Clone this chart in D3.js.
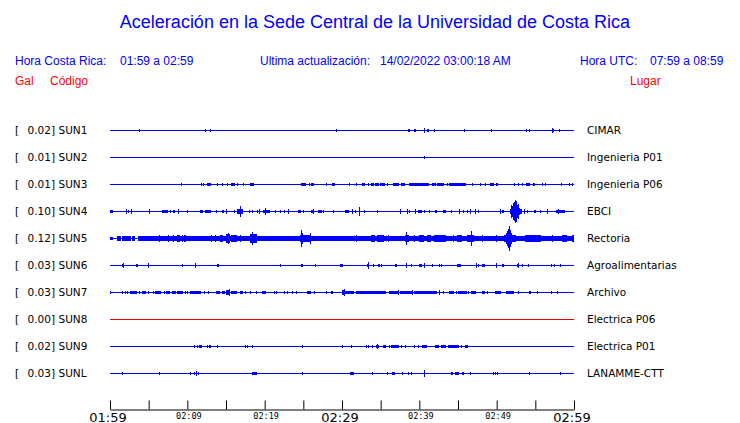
<!DOCTYPE html>
<html><head><meta charset="utf-8">
<script src="https://cdn.jsdelivr.net/npm/d3@7"></script>
<style>
html,body{margin:0;padding:0;background:#fff;}
svg{display:block;}
</style></head>
<body>
<svg id="chart" width="740" height="423"></svg>
<script>
// ---- data ----
const stations = ["SUN1","SUN2","SUN3","SUN4","SUN5","SUN6","SUN7","SUN8","SUN9","SUNL"];
const places = ["CIMAR","Ingenieria P01","Ingenieria P06","EBCI","Rectoria","Agroalimentarias","Archivo","Electrica P06","Electrica P01","LANAMME-CTT"];
const peakGal = ["0.02","0.01","0.01","0.10","0.12","0.03","0.03","0.00","0.02","0.03"];
const traceColor = ["blue","blue","blue","blue","blue","blue","blue","red","blue","blue"];
const tickMinutes = [0,5,10,15,20,25,30,35,40,45,50,55,60];
const majorTickLabels = ["01:59","02:29","02:59"];
const minorTickLabels = ["02:09","02:19","02:39","02:49"];
// events per station: [minute after 01:59, duration (min), amplitude]
const evSUN1 = [[3.79,0,1.5],[12.28,0,1.5],[12.97,0,1],[29.2,0,1.5],[38.5,0,1],[38.66,0,1],[39.27,0.3,1.2],[40.6,0,2],[41.0,0.2,1],[41.9,0,1],[45.8,0.1,1.2],[49.3,0,1.2],[53.75,0,1],[54.2,0,1],[57.1,0.3,1.5],[57.15,0,2],[58.0,0,1.2]];
const evSUN2 = [[40.6,0,1.5]];
const evSUN3 = [[9.22,0,1],[11.8,0,1.2],[12.07,0,1],[12.58,0,1],[12.7,0.35,1.5],[13.87,0,1],[14.44,0,1],[15.09,0,1.5],[15.65,0.5,1.2],[16.38,0,1],[17.24,0,1.2],[18.1,0.5,1.5],
 [24.7,0.7,1.5],[25.7,0,1],[25.95,0.4,1.5],[27.97,0,1],[28.7,0.35,1.5],[30.95,0,0.8],[31.85,0,1],[32.59,0.35,1.2],[33.36,0,1],[33.75,0.35,1.2],[34.3,0.45,1.5],[34.95,0.65,1.2],[35.8,0,1],[36.6,0.75,1.5],[37.67,0.45,1.2],[38.6,1.3,1.5],[39.9,0,1],
 [40.0,1.3,1.5],[41.7,0.5,1.5],[42.3,0.85,1.5],[43.6,0,1],[43.9,2.1,1.5],[46.8,0,0.8],[47.9,0,1],[48.5,0,1],[49.2,0.45,1.5],[49.85,0.3,1.5],[52.25,0,0.8],[52.8,0,1],[53.3,0,1],[53.75,0.5,1.5],[54.7,0.3,1.5],[55.8,0,1],[56.2,0,1],[58.3,0,0.8],[59.3,0,1],[59.8,0,1]];
const evSUN4 = [[0,0.45,1.5],[2.07,0,2],[2.37,0,1],[2.67,0,2],[5.08,0,2],[6.68,0.8,1.5],[7.8,0,1],[8.1,0.3,1.5],[8.84,0,2],[10.0,0,1],[11.64,0.45,1.5],[12.28,0.8,1.5],[13.7,0,1],[14.5,0.3,1.5],[15.0,0,2.5],[16.07,0,1],[16.4,0.75,2],[16.85,0,5],[17.95,0,1],[18.3,0,1.5],[18.95,0,1],[19.3,0,2.5],[19.8,0.25,1.5],
 [19.9,0.85,1.5],[20.1,0,3.5],[21.4,0,1.5],[22.0,0,1],[22.45,0,1],[22.97,0,2],[24.3,0.45,1.5],[25.0,0,1],[25.95,0.45,1.5],[26.3,0,2.5],[26.9,0.45,1.5],[27.55,0,1],[28.8,0,1.5],[30.4,0.5,1.5],[31.3,0,2],[31.7,0,1],[32.24,0,4],[32.9,0,1.5],[34.5,0,1],[37.55,0,2],[38.4,0,2],[38.66,0,1],[39.45,0,2],[39.8,0.45,1.5],
 [40.0,0.35,1.5],[40.6,0,1.5],[41.2,0,1],[42.0,0.3,1.5],[43.1,0.3,1.5],[44.1,0,1],[45.1,0,2],[45.7,0,1],[46.1,0,1],[46.6,0,2.5],[47.2,0,2],[47.6,0,1],[50.4,0,2],[50.7,0.3,1.5],
 [51.7,1.4,2],[51.85,1.0,3],[51.85,0,6],[51.95,0,5],[52.05,0,8],[52.15,0,7],[52.25,0,9],[52.33,0,11],[52.42,0,7],[52.5,0,10],[52.6,0,6],[52.7,0,7],[52.8,0,4],[52.95,0,3],
 [53.2,0,2],[53.5,0,2],[53.9,0,1],[54.8,0.3,1.5],[55.55,0,1],[56.5,0,2.5],[57.7,1.1,1.5],[57.9,0,2.5]];
const evSUN5 = [[0,0.43,1.5],[0.87,0.55,2],[1.6,1.1,2],[2.9,0.3,2],[3.66,56.34,2],
 [6.4,0,3],[7.45,0,3],[8.2,0,3],[8.6,0.45,3],[9.3,0,3],[9.6,0.2,3.5],[13.05,0,3],[13.6,0,3],[14.2,0.45,3],[14.95,0.55,4],[15.3,0,5],[15.65,0.75,3],[16.8,0,3],[18.1,0.9,4],[18.4,0,6],
 [24.6,1.4,3.5],[24.7,0.3,5],[24.7,0,8],[25.8,0,5],[31.85,0,3],[33.75,0.55,3],[34.5,0.9,3],[35.95,0,3],[38.2,0.4,3],[38.3,0,6],[39.25,0,3],[40.0,0.1,3],
 [40.0,0.6,3],[41.0,0.45,3],[41.9,1.5,3],[44.3,0.2,3],[44.9,0.65,3],[46.2,0.85,3.5],[46.7,0,7],[48.15,0,3],[49.9,0,3.5],
 [50.95,1.5,3.5],[51.2,0.8,5],[51.3,0.5,7],[51.45,0,9],[51.55,0,12],[51.65,0,10],[51.75,0,8],[53.65,2.05,3],[57.15,0,3],[58.5,0.6,3],[59.7,0.3,3]];
const evSUN6 = [[1.6,0.25,1.5],[1.72,0,2],[3.36,0.21,1.5],[4.95,0,2],[9.27,0.23,1.5],[11.0,0,2],[13.8,0.3,1.5],
 [22.0,0,1],[24.7,0.2,1.5],[26.5,0,1],[29.7,0.4,1.5],[33.2,0.3,1.5],[33.35,0,3.5],[34.0,0,1],[34.7,0.2,1.5],[35.1,0,1],[36.9,0.2,1.5],[38.3,0,2],[38.95,0,1],[40.0,0.35,1.5],
 [40.6,0,2],[41.7,0,1],[42.5,0,1],[42.75,0.2,1.5],[44.9,0.45,1.5],[47.3,0,2],[47.6,0,1],[48.15,0.35,1.5],[49.9,0,2.5],[50.7,0.25,1.5],[52.65,0.3,1.5],[52.8,0,2],[53.3,0,1],[54.1,0,1],[57.0,0,1],[57.4,0.2,1.5],[58.15,0,1]];
const evSUN7 = [[0,0,1],[1.6,0,1.5],[1.93,0,1],[2.23,0,1.5],[2.6,0.85,1.5],[3.8,0,1],[4.2,0.4,1.5],[4.9,0,1],[5.5,0,1],[5.8,0.75,1.5],[6.95,0,1],[7.25,0.45,1.5],[8.0,0.5,1.5],[8.7,0.7,1.5],[9.7,0,1],[10.0,0,1],[10.4,1.35,1.5],[12.15,0,1],[12.7,0,1],[13.7,0.5,1.5],[14.5,0.4,1.5],[14.95,0.55,2],[15.35,0,3],[15.65,0.75,1.5],[16.8,0.45,1.5],[17.45,0,1],[18.1,0,1],[18.85,0,1],[19.8,0.25,1.5],
 [19.65,0.55,1.5],[21.2,0,1.5],[21.5,0,1],[22.55,0,1],[22.9,0,1.5],[23.55,0,1],[24.1,0,1],[25.45,0.55,1.5],[26.4,0,1],[27.97,0,1],[28.6,0.3,1.5],[30.0,0.4,2],[30.25,0,3],[30.4,1.1,1.5],[31.8,2.7,1.5],[34.5,1.2,1.5],[36.05,1.2,1.5],[37.3,0,2],[37.55,1.5,1.5],[39.1,0,2],[39.25,1.05,1.5],
 [40.0,2.3,1.5],[42.55,0,2],[43.05,0.2,1.5],[43.85,0.65,1.5],[44.8,0,1],[45.05,1.05,1.5],[46.35,0,1],[46.65,0,1],[46.85,0.5,1.5],[48.15,0.35,1.5],[48.7,0,1],[49.8,0.7,1.5],[51.25,1.05,1.5],[52.8,0,1],[54.2,0.3,1.5],[55.25,0,1],[57.0,0,1],[57.8,0,1]];
const evSUN8 = [];
const evSUN9 = [[10.9,0,1],[11.25,0,1],[11.5,0.45,1.5],[12.58,0,1.5],[12.8,0.25,1.5],[13.87,0,1],[17.45,0,1],[17.75,0,1],[18.35,0,1.5],
 [24.8,0,1],[30.0,0,1],[31.2,0,1],[33.1,0,1.5],[33.35,0.2,1.5],[33.9,0,1],[34.4,0.4,1.5],[34.55,0,2],[35.3,0.45,1.5],[36.05,0,1],[36.35,1.05,1.5],[37.67,0,1],[38.1,0.2,1.5],[39.3,0,1],[39.8,0,1],
 [40.3,0.7,1.5],[42.0,0.55,1.5],[42.75,0,1],[42.95,0.55,1.5],[43.75,1.35,1.5],[45.35,0,1],[45.85,0.45,1.5]];
const evSUNL = [[1.5,0,1],[6.35,0,1.5],[10.4,0,1.5],[10.9,0,1],[11.1,0,2],[11.4,0,1],[18.3,0,1],[18.45,0.5,1.5],
 [24.8,0,1],[31.0,0.5,1.5],[33.9,0,1],[35.8,0,1],[36.45,0.35,1.5],[37.75,0,1],[38.55,0.15,1.5],[38.9,0,1.5],
 [40.6,0,3],[44.15,0.2,1.5],[44.6,0.5,1.5],[45.55,0.25,1.5],[46.5,0,1.5],[49.5,0,1.5],[49.75,0,1.5],[50.1,0,1.5],[54.2,0,1.5],[58.15,0,1.5]];
const events = [evSUN1,evSUN2,evSUN3,evSUN4,evSUN5,evSUN6,evSUN7,evSUN8,evSUN9,evSUNL];

// ---- drawing ----
const svg = d3.select("#chart");
const blue = "#0000ff", red = "#ff0000";
const x = d3.scaleLinear().domain([0,60]).range([110,574]);
const y = d3.scalePoint().domain(stations).range([130,373]);
const amp = d3.scaleLinear().domain([0,12]).range([0,12]);
const ampPx = a => Math.max(1, Math.floor(amp(a)));

svg.append("text").attr("x",375).attr("y",28).attr("text-anchor","middle")
  .attr("font-family","Liberation Sans, Arial, sans-serif").attr("font-size",18).attr("fill",blue)
  .text("Aceleración en la Sede Central de la Universidad de Costa Rica");

const hdr = [
  ["Hora Costa Rica:",15,65,blue],["01:59 a 02:59",120,65,blue],
  ["Ultima actualización:",260,65,blue],["14/02/2022 03:00:18 AM",380,65,blue],
  ["Hora UTC:",580,65,blue],["07:59 a 08:59",650,65,blue],
  ["Gal",15,85,red],["Código",50,85,red],["Lugar",630,85,red]
];
svg.append("g").selectAll("text").data(hdr).join("text")
  .attr("x",d=>d[1]).attr("y",d=>d[2]).attr("fill",d=>d[3])
  .attr("font-family","Liberation Sans, Arial, sans-serif").attr("font-size",12)
  .text(d=>d[0]);

const rows = svg.append("g").selectAll("g").data(stations).join("g")
  .attr("transform",d=>`translate(0,${y(d)})`);

const lf = "DejaVu Sans, sans-serif";
rows.append("text").attr("x",15).attr("y",4).attr("font-family",lf).attr("font-size",10.5).text("[");
rows.append("text").attr("x",55).attr("y",4).attr("text-anchor","end").attr("font-family",lf).attr("font-size",10.5)
  .text((d,i)=>peakGal[i]+"]");
rows.append("text").attr("x",58.5).attr("y",4).attr("font-family",lf).attr("font-size",10.5).text(d=>d);
rows.append("text").attr("x",587).attr("y",4).attr("font-family",lf).attr("font-size",10.5).text((d,i)=>places[i]);

rows.append("rect").attr("x",x(0)).attr("y",0).attr("width",x(60)-x(0)).attr("height",1)
  .attr("shape-rendering","crispEdges")
  .attr("fill",(d,i)=>traceColor[i]==="red"?"#e80000":blue);

rows.each(function(d,i){
  d3.select(this).append("g").attr("shape-rendering","crispEdges").selectAll("rect").data(events[i]).join("rect")
    .attr("x",e=>Math.round(x(e[0])))
    .attr("width",e=>Math.max(1,Math.round(x(e[0]+e[1]))-Math.round(x(e[0]))))
    .attr("y",e=>-ampPx(e[2]))
    .attr("height",e=>2*ampPx(e[2])+1)
    .attr("fill",blue);
});

// axis
const axG = svg.append("g").attr("transform","translate(0,409.5)");
const axis = d3.axisBottom(x).tickValues(tickMinutes).tickSizeInner(-9).tickSizeOuter(0).tickFormat("");
axG.call(axis);
axG.select(".domain").attr("stroke","#000");
axG.selectAll(".tick line").attr("stroke","#000");
const majorIdx = [0,30,60], minorIdx = [10,20,40,50];
axG.append("g").selectAll("text").data(majorIdx).join("text")
  .attr("x",d=>x(d)-2).attr("y",12).attr("text-anchor","middle")
  .attr("font-family",lf).attr("font-size",13).attr("fill","#000")
  .text((d,i)=>majorTickLabels[i]);
axG.append("g").selectAll("text").data(minorIdx).join("text")
  .attr("x",d=>x(d)+1.5).attr("y",9).attr("text-anchor","middle")
  .attr("font-family","DejaVu Sans Mono, monospace").attr("font-size",8.5).attr("fill","#000")
  .text((d,i)=>minorTickLabels[i]);
</script>
</body></html>
